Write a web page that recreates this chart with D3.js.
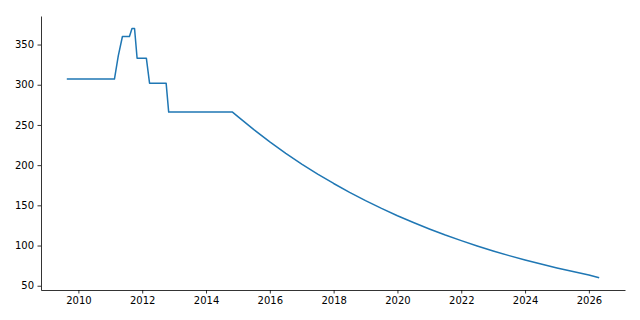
<!DOCTYPE html>
<html>
<head>
<meta charset="utf-8">
<script src="https://cdn.jsdelivr.net/npm/d3@7"></script>
<style>
  html, body { margin: 0; padding: 0; background: #fff; }
  svg text { font-family: "DejaVu Sans", sans-serif; font-size: 10px; fill: #000; }
</style>
</head>
<body>
<div id="viz"></div>
<script>
// Datos (anio decimal, valor)
const years = [2009.66, 2011.13, 2011.25, 2011.38, 2011.6, 2011.68, 2011.76, 2011.84, 2012.13, 2012.23, 2012.75, 2012.83,
  2014.83, 2015.0, 2015.5, 2016.0, 2016.5, 2017.0, 2017.5, 2018.0, 2018.5, 2019.0, 2019.5, 2020.0, 2020.5,
  2021.0, 2021.5, 2022.0, 2022.5, 2023.0, 2023.5, 2024.0, 2024.5, 2025.0, 2025.5, 2026.0, 2026.3];
const values = [307, 307, 336, 360, 360, 370, 370, 333, 333, 302, 302, 266,
  266, 260.3, 244.1, 229.0, 214.7, 201.4, 188.9, 177.2, 166.2, 155.9, 146.2, 137.1, 128.6,
  120.6, 113.1, 106.1, 99.5, 93.3, 87.5, 82.1, 77.0, 72.2, 67.7, 63.4, 60.2];
const xTicks = [2010, 2012, 2014, 2016, 2018, 2020, 2022, 2024, 2026];
const yTicks = [50, 100, 150, 200, 250, 300, 350];

const LINE_COLOR = '#1f77b4';

let margin = {top: 16, right: 15, bottom: 30, left: 41},
    width = 640 - margin.left - margin.right,
    height = 320 - margin.top - margin.bottom;

let svg = d3.select('#viz')
  .append('svg')
    .attr('width', 640)
    .attr('height', 320)
  .append('g')
    .attr('transform', 'translate(' + margin.left + ',' + margin.top + ')');

let data = years.map(function(d, i) { return {x: d, y: values[i]}; });

// margen del 5% como matplotlib
let xExt = d3.extent(years), yExt = d3.extent(values);
let xPad = (xExt[1] - xExt[0]) * 0.05, yPad = (yExt[1] - yExt[0]) * 0.05;

let x = d3.scaleLinear()
  .domain([xExt[0] - xPad, xExt[1] + xPad])
  .range([0, width]);

let y = d3.scaleLinear()
  .domain([yExt[0] - yPad, yExt[1] + yPad])
  .range([height, 0]);

let xAxis = svg.append('g')
  .attr('transform', 'translate(0,' + height + ')')
  .call(d3.axisBottom(x).tickValues(xTicks).tickFormat(d3.format('d')).tickSizeInner(3.5).tickSizeOuter(0).tickPadding(3.5));

let yAxis = svg.append('g')
  .call(d3.axisLeft(y).tickValues(yTicks).tickFormat(d3.format('d')).tickSizeInner(3.5).tickSizeOuter(0).tickPadding(3.5));

[xAxis, yAxis].forEach(function(g) {
  g.select('.domain').attr('stroke', '#000').attr('stroke-width', 0.8);
  g.selectAll('.tick line').attr('stroke', '#000').attr('stroke-width', 0.8);
  g.selectAll('text').attr('font-family', '"DejaVu Sans", sans-serif').attr('font-size', 10);
});

let line = d3.line()
  .x(function(d) { return x(d.x); })
  .y(function(d) { return y(d.y); });

svg.append('path')
  .datum(data)
  .attr('fill', 'none')
  .attr('stroke', LINE_COLOR)
  .attr('stroke-width', 1.5)
  .attr('stroke-linejoin', 'round')
  .attr('stroke-linecap', 'square')
  .attr('d', line);
</script>
</body>
</html>
